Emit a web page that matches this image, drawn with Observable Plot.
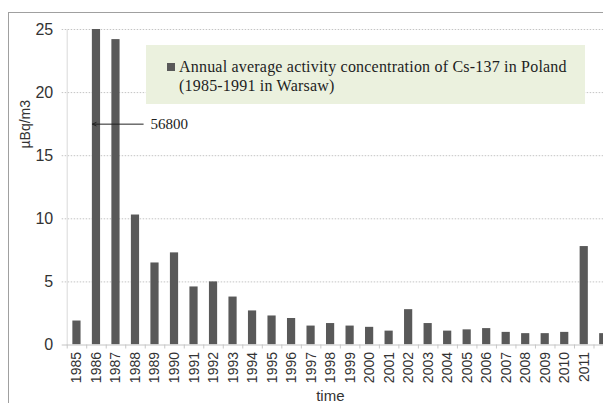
<!DOCTYPE html>
<html><head><meta charset="utf-8">
<script src="https://cdn.jsdelivr.net/npm/d3@7"></script>
<script src="https://cdn.jsdelivr.net/npm/@observablehq/plot@0.6"></script>
<style>
body{margin:0;background:#fff;}
#wrap{position:relative;width:603px;height:403px;overflow:hidden;}
#frame{position:absolute;left:8px;top:12px;width:620px;height:420px;border-top:1px solid #a0a0a0;border-left:1px solid #a0a0a0;}
#chart{position:absolute;left:0;top:0;width:613px;height:403px;}
#chart svg{max-width:none !important;}
#legend{position:absolute;left:146px;top:45px;width:439px;height:59px;background:#ebf1de;font-family:"Liberation Serif","Times New Roman",serif;font-size:16px;letter-spacing:0.2px;color:#1e1e1e;}
#legend .sw{position:absolute;left:21px;top:18px;width:8px;height:8px;background:#595959;}
#legend .l{position:absolute;left:33px;line-height:19px;white-space:nowrap;}
</style>
</head><body>
<div id="wrap">
  <div id="frame"></div>
  <div id="chart"></div>
  <div id="legend"><div class="sw"></div><div class="l" id="l1" style="top:12px"></div><div class="l" id="l2" style="top:31px"></div></div>
</div>
<script>
const years = ["1985","1986","1987","1988","1989","1990","1991","1992","1993","1994","1995","1996","1997","1998","1999","2000","2001","2002","2003","2004","2005","2006","2007","2008","2009","2010","2011","2012"];
const values = [1.9, 56800, 24.2, 10.3, 6.5, 7.3, 4.6, 5.0, 3.8, 2.7, 2.3, 2.1, 1.5, 1.7, 1.5, 1.4, 1.1, 2.8, 1.7, 1.1, 1.2, 1.3, 1.0, 0.9, 0.9, 1.0, 7.8, 0.9];
const yTicks = [0, 5, 10, 15, 20, 25];
const xTickLabels = years.slice(0, 27);
const seriesName = ["Annual average activity concentration of Cs-137 in Poland", "(1985-1991 in Warsaw)"];
const yLabel = "µBq/m3";
const xLabel = "time";
const note = {from: "1988", to: "1986", y: 17.5, text: "56800"};

document.getElementById("l1").textContent = seriesName[0];
document.getElementById("l2").textContent = seriesName[1];

const data = years.map((y, i) => ({year: y, value: values[i]}));

const chart = Plot.plot({
  width: 613,
  height: 403,
  marginLeft: 66.7,
  marginRight: 0,
  marginTop: 29,
  marginBottom: 58.5,
  style: {fontFamily: "'Liberation Sans', Arial, sans-serif", background: "transparent", overflow: "visible", maxWidth: "none"},
  x: {domain: years, paddingInner: 0.58, paddingOuter: 0.29, align: 0.5, round: false},
  y: {domain: [0, 25]},
  marks: [
    Plot.ruleY(yTicks.slice(1), {stroke: "#c4c4c4", strokeDasharray: "1.5,1.5", insetLeft: -5}),
    Plot.ruleX(years, {x: d => d, y1: 0, y2: 0, dx: -9.75, insetBottom: -4, stroke: "#c8c8c8"}),
    Plot.frame({anchor: "left", stroke: "#d9d9d9"}),
    Plot.barY(data, {x: "year", y: "value", fill: "#595959", clip: true}),
    Plot.ruleY([0], {stroke: "#c4c4c4", insetLeft: -5}),
    Plot.axisY({ticks: yTicks, tickSize: 0, tickPadding: 14, fontSize: 16, fill: "#333", label: null}),
    Plot.axisX({ticks: xTickLabels, tickSize: 0, tickPadding: 7, tickRotate: -90, fontSize: 14, fill: "#333", label: null}),
    Plot.text([yLabel], {frameAnchor: "left", textAnchor: "middle", lineAnchor: "middle", rotate: -90, dx: -42, dy: -63, fontSize: 14, fill: "#333"}),
    Plot.text([xLabel], {frameAnchor: "bottom", textAnchor: "middle", lineAnchor: "middle", dx: -10, dy: 51.5, fontSize: 15, fill: "#333"}),
    Plot.arrow([note], {x1: "from", x2: "to", y1: "y", y2: "y", insetStart: -7.7, insetEnd: -4, stroke: "#222", strokeWidth: 1, headLength: 6, headAngle: 50}),
    Plot.text([note], {x: "from", y: "y", text: "text", dx: 15, textAnchor: "start", fontSize: 15, fontFamily: "'Liberation Serif', 'Times New Roman', serif", fill: "#222"})
  ]
});
document.getElementById("chart").appendChild(chart);
</script>
</body></html>
